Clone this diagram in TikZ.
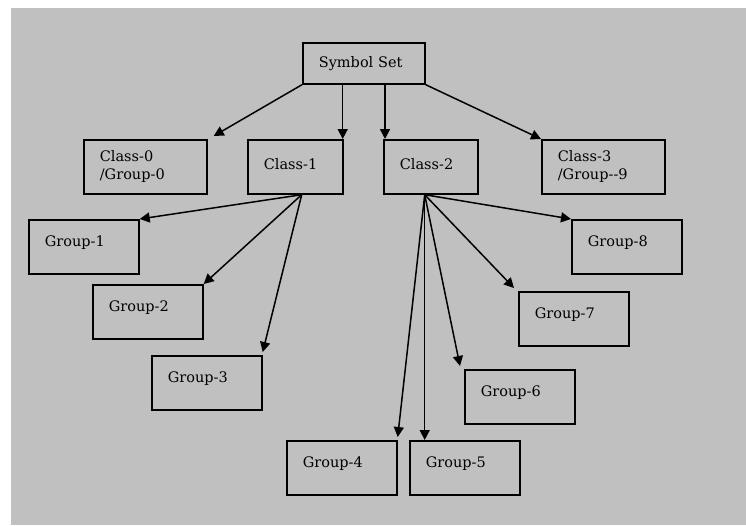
\documentclass[tikz,border=0pt]{standalone}
\usepackage{fontspec}
\setmainfont{DejaVu Serif}
\usetikzlibrary{arrows.meta}
\definecolor{bggray}{RGB}{192,192,192}

\begin{document}
\begin{tikzpicture}[x=1pt, y=-1pt,
    box/.style={draw, line width=1.7pt, inner xsep=16pt, inner ysep=0pt,
      minimum height=54pt, align=left, anchor=north west,
      font=\fontsize{14.5}{18}\selectfont},
    grp/.style={box, text width=78pt, text depth=12pt},
    link/.style={line width=1.5pt, -{Triangle[length=10pt,width=10pt]}}]
  \useasboundingbox (0,0) rectangle (746,525);
  \fill[white] (0,0) rectangle (746,525);
  \fill[bggray] (11,8) rectangle (746,525);

  \node[box, text width=90pt, minimum height=41pt] (sym) at (302,42) {Symbol Set};
  \node[box, text width=91pt] (cls0) at (83,139) {Class-0\\/Group-0};
  \node[box, text width=63pt, text depth=6pt] (cls1) at (247,139) {Class-1};
  \node[box, text width=62pt, text depth=6pt] (cls2) at (383,139) {Class-2};
  \node[box, text width=91pt] (cls3) at (541,139) {Class-3\\/Group-{}-9};

  \node[grp] (grp1) at (28,219) {Group-1};
  \node[grp] (grp2) at (92,284) {Group-2};
  \node[grp] (grp3) at (151,355) {Group-3};
  \node[grp] (grp4) at (286,440) {Group-4};
  \node[grp] (grp5) at (409,440) {Group-5};
  \node[grp] (grp6) at (464,369) {Group-6};
  \node[grp] (grp7) at (518,291) {Group-7};
  \node[grp] (grp8) at (571,219) {Group-8};

  \coordinate (fan1) at ([xshift=-42pt]cls1.south east);
  \coordinate (fan2) at ([xshift=-54pt]cls2.south east);

  \draw[link] (sym.south west) -- ([xshift=6pt,yshift=3pt]cls0.north east);
  \draw[link] ([xshift=-1pt]cls1.north east |- sym.south) -- ([xshift=-1pt]cls1.north east);
  \draw[link] ([xshift=2pt]cls2.north west |- sym.south) -- ([xshift=2pt]cls2.north west);
  \draw[link] (sym.south east) -- (cls3.north west);

  \draw[link] (fan1) -- (grp1.north east);
  \draw[link] (fan1) -- (grp2.north east);
  \draw[link] (fan1) -- ([yshift=3pt]grp3.north east);
  \draw[link] (fan2) -- ([yshift=3pt]grp4.north east);
  \draw[link] (fan2) -- (fan2 |- grp5.north);
  \draw[link] (fan2) -- ([xshift=-4pt,yshift=3pt]grp6.north west);
  \draw[link] (fan2) -- ([xshift=-4pt,yshift=3pt]grp7.north west);
  \draw[link] (fan2) -- (grp8.north west);
\end{tikzpicture}
\end{document}
